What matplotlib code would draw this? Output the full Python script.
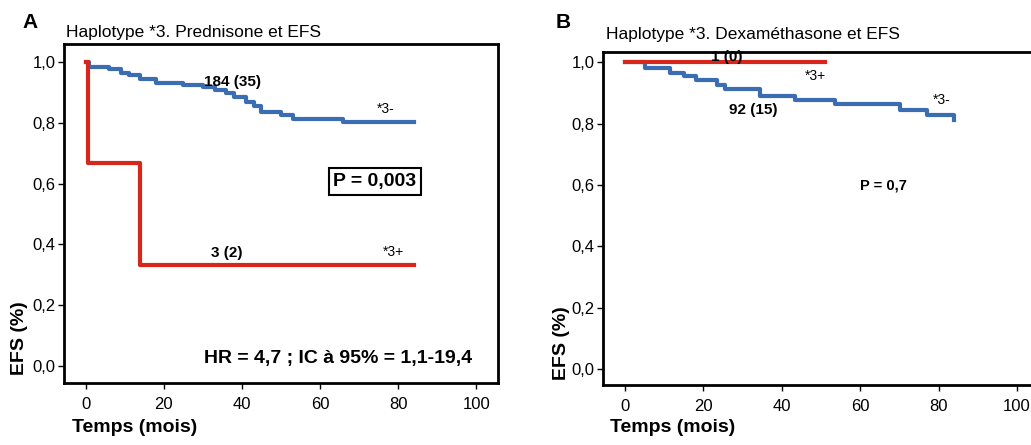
import matplotlib
matplotlib.use('Agg')
import matplotlib.pyplot as plt

plt.rcParams['font.family'] = ['Liberation Sans', 'DejaVu Sans']

RED = '#d8261c'
BLUE = '#3a6db2'

# Panel A : Prednisone
a_neg_t = [0, 0.7, 6, 9, 11, 14, 18, 25, 30, 33, 36, 38, 41, 43, 45, 50, 53, 66, 84]
a_neg_s = [1.0, 0.984, 0.977, 0.965, 0.957, 0.946, 0.932, 0.925, 0.917, 0.908,
           0.898, 0.886, 0.870, 0.855, 0.837, 0.826, 0.812, 0.802, 0.802]
a_pos_t = [0, 0.5, 14, 84]
a_pos_s = [1.0, 0.667, 0.333, 0.333]

# Panel B : Dexaméthasone
b_neg_t = [0, 5, 11.5, 15, 18, 23.4, 25.5, 34.4, 43.4, 53.6, 70.2, 77, 84]
b_neg_s = [1.0, 0.981, 0.966, 0.954, 0.941, 0.925, 0.913, 0.889, 0.878, 0.862,
           0.844, 0.827, 0.81]
b_pos_t = [0, 51]
b_pos_s = [1.0, 1.0]

xticks = [0, 20, 40, 60, 80, 100]
yticks = [0.0, 0.2, 0.4, 0.6, 0.8, 1.0]
ytick_labels = ['0,0', '0,2', '0,4', '0,6', '0,8', '1,0']

W, H = 1031, 445
fig = plt.figure(figsize=(W / 100, H / 100), dpi=100)


def px(x, y):
    return x / W, 1 - y / H


def style_axes(ax, ylim):
    ax.set_xlim(-5.6, 105.6)
    ax.set_ylim(*ylim)
    ax.set_xticks(xticks)
    ax.set_yticks(yticks)
    ax.set_yticklabels(ytick_labels)
    ax.tick_params(direction='out', length=4, width=1, labelsize=12, pad=2)
    ax.tick_params(axis='x', pad=6)
    for s in ax.spines.values():
        s.set_linewidth(2)


axA = fig.add_axes([64 / W, (H - 383) / H, 434 / W, 339 / H])
axA.step(a_neg_t, a_neg_s, where='post', color=BLUE, lw=3)
axA.step(a_pos_t, a_pos_s, where='post', color=RED, lw=3)
style_axes(axA, (-0.056, 1.06))
axA.text(37.7, 0.934, '184 (35)', fontsize=11, fontweight='bold', ha='center', va='center')
axA.text(76.7, 0.846, '*3-', fontsize=10, ha='center', va='center')
axA.text(36.2, 0.372, '3 (2)', fontsize=11, fontweight='bold', ha='center', va='center')
axA.text(78.7, 0.376, '*3+', fontsize=10, ha='center', va='center')
axA.text(74.1, 0.607, 'P = 0,003', fontsize=14, fontweight='bold', ha='center', va='center',
         bbox=dict(boxstyle='square,pad=0.25', fc='white', ec='black', lw=1.5))
axA.text(64.5, 0.026, 'HR = 4,7 ; IC à 95% = 1,1-19,4', fontsize=14, fontweight='bold',
         ha='center', va='center')

axB = fig.add_axes([603 / W, (H - 385) / H, 436 / W, 333 / H])
axB.step(b_neg_t, b_neg_s, where='post', color=BLUE, lw=3)
axB.step(b_pos_t, b_pos_s, where='post', color=RED, lw=3)
style_axes(axB, (-0.052, 1.033))
axB.text(26, 1.016, '1 (0)', fontsize=11, fontweight='bold', ha='center', va='center')
axB.text(48.5, 0.954, '*3+', fontsize=10, ha='center', va='center')
axB.text(32.7, 0.844, '92 (15)', fontsize=11, fontweight='bold', ha='center', va='center')
axB.text(80.9, 0.876, '*3-', fontsize=10, ha='center', va='center')
axB.text(65.8, 0.599, 'P = 0,7', fontsize=10.5, fontweight='bold', ha='center', va='center')

# panel letters, titles and axis labels
fig.text(*px(22, 22), 'A', fontsize=15, fontweight='bold', ha='left', va='center')
fig.text(*px(556, 22), 'B', fontsize=15, fontweight='bold', ha='left', va='center')
fig.text(*px(66, 33), 'Haplotype *3. Prednisone et EFS', fontsize=12.5, ha='left', va='center')
fig.text(*px(606, 35), 'Haplotype *3. Dexaméthasone et EFS', fontsize=12.5, ha='left', va='center')
fig.text(*px(72, 428), 'Temps (mois)', fontsize=14, fontweight='bold', ha='left', va='center')
fig.text(*px(610, 428), 'Temps (mois)', fontsize=14, fontweight='bold', ha='left', va='center')
fig.text(*px(20, 338), 'EFS (%)', fontsize=14, fontweight='bold', rotation=90, ha='center', va='center')
fig.text(*px(562, 343), 'EFS (%)', fontsize=14, fontweight='bold', rotation=90, ha='center', va='center')

fig.savefig('out.png', dpi=100)
